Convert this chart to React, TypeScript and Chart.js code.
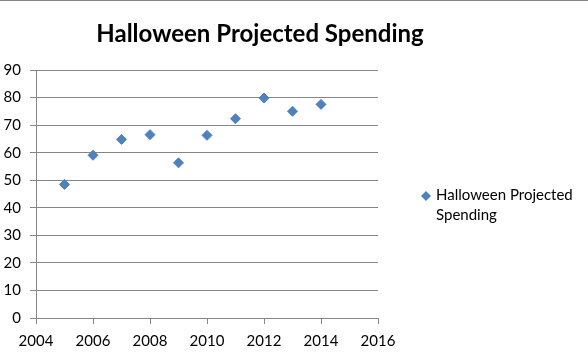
import React, { useEffect, useRef } from "react";
import { Chart, registerables } from "chart.js";

Chart.register(...registerables);

const TITLE = "Halloween Projected Spending";
const SERIES_NAME = "Halloween Projected Spending";
const LEGEND_LINES = ["Halloween Projected", "Spending"];
const years = [2005, 2006, 2007, 2008, 2009, 2010, 2011, 2012, 2013, 2014];
const spending = [48.48, 59.06, 64.82, 66.54, 56.31, 66.28, 72.31, 79.82, 75.03, 77.52];

const BLUE = "#4F81BD";
const GRID = "#868686";
const FONT = "Lato";

const decor = {
  id: "decor",
  afterDraw(chart: any) {
    const ctx = chart.ctx as CanvasRenderingContext2D;
    ctx.save();
    // top border
    ctx.strokeStyle = GRID;
    ctx.lineWidth = 1;
    ctx.beginPath();
    ctx.moveTo(0, 0.5);
    ctx.lineTo(chart.width, 0.5);
    ctx.stroke();
    // title
    ctx.fillStyle = "#000";
    ctx.font = `bold 24px ${FONT}`;
    ctx.textAlign = "center";
    ctx.textBaseline = "middle";
    ctx.fillText(TITLE, 260, 34);
    // legend
    const mx = 426, my = 196, r = 5;
    ctx.fillStyle = BLUE;
    ctx.beginPath();
    ctx.moveTo(mx, my - r);
    ctx.lineTo(mx + r, my);
    ctx.lineTo(mx, my + r);
    ctx.lineTo(mx - r, my);
    ctx.closePath();
    ctx.fill();
    ctx.fillStyle = "#000";
    ctx.font = `15px ${FONT}`;
    ctx.textAlign = "left";
    ctx.textBaseline = "middle";
    LEGEND_LINES.forEach((line, i) => ctx.fillText(line, 436, 195 + i * 20));
    ctx.restore();
  },
};

export default function App() {
  const ref = useRef<HTMLCanvasElement>(null);
  useEffect(() => {
    const chart = new Chart(ref.current!, {
      type: "scatter",
      data: {
        datasets: [
          {
            label: SERIES_NAME,
            data: years.map((y, i) => ({ x: y, y: spending[i] })),
            pointStyle: "rectRot",
            pointRadius: 5,
            pointBorderWidth: 1,
            backgroundColor: BLUE,
            borderColor: BLUE,
          },
        ],
      },
      options: {
        responsive: false,
        animation: false,
        layout: { padding: { top: 70, right: 210, left: 0, bottom: 0 } },
        plugins: {
          legend: { display: false },
          title: { display: false },
          tooltip: { enabled: false },
        },
        scales: {
          x: {
            type: "linear",
            min: 2004,
            max: 2016,
            afterFit: (s: any) => {
              s.height = 42;
            },
            ticks: {
              stepSize: 2,
              callback: (v: any) => String(v),
              color: "#000",
              font: { family: FONT, size: 15 },
              padding: 8,
              maxRotation: 0,
            },
            grid: { drawOnChartArea: false, drawTicks: true, tickLength: 6, color: GRID },
            border: { display: true, color: GRID },
          },
          y: {
            min: 0,
            max: 90,
            afterFit: (s: any) => {
              s.width = 36;
            },
            ticks: {
              stepSize: 10,
              color: "#000",
              font: { family: FONT, size: 15 },
              padding: 9,
            },
            grid: { color: GRID, tickLength: 6 },
            border: { display: true, color: GRID },
          },
        },
      },
      plugins: [decor],
    });
    return () => chart.destroy();
  }, []);
  return (
    <div style={{ position: "fixed", left: 0, top: 0, width: 588, height: 360, background: "#fff" }}>
      <canvas ref={ref} width={588} height={360} style={{ display: "block" }} />
    </div>
  );
}
